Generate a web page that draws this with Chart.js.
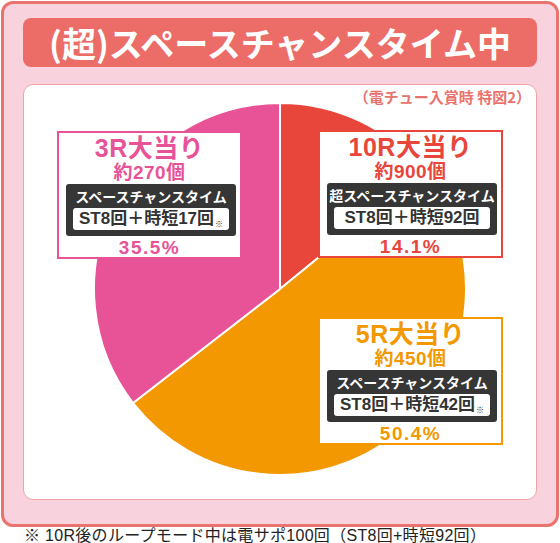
<!DOCTYPE html>
<html><head><meta charset="utf-8">
<script src="https://cdn.jsdelivr.net/npm/chart.js@4/dist/chart.umd.min.js"></script>
<style>
html,body{margin:0;padding:0;background:#fff;}
body{width:560px;height:543px;position:relative;overflow:hidden;font-family:"Liberation Sans","Noto Sans CJK JP",sans-serif;}
#outer{position:absolute;left:1px;top:1px;width:558px;height:526px;box-sizing:border-box;background:#f8d3dd;border:3px solid #e9736e;border-radius:12px;}
#header{position:absolute;left:23px;top:18px;width:514px;height:49px;background:#ec6d67;border-radius:8px;color:#fff;font-weight:700;font-size:34px;line-height:49px;text-align:center;font-family:"Noto Sans CJK JP",sans-serif;}
#inner{position:absolute;left:23px;top:84px;width:514px;height:416px;box-sizing:border-box;background:#fff;border:1px solid #f0a3a3;border-radius:10px;}
#note{position:absolute;right:29px;top:87px;font-size:15px;font-weight:700;color:#e9736e;line-height:20px;font-family:"Noto Sans CJK JP",sans-serif;}
#pie{position:absolute;left:93px;top:102px;}
.lab{position:absolute;width:185px;height:128px;box-sizing:border-box;background:#fff;border:2px solid;}
.lab .t{position:absolute;left:0;right:0;text-align:center;font-weight:700;}
.lab .dark{position:absolute;left:7px;width:170px;height:52px;background:#363636;border-radius:3px;}
.lab .dark .m{position:absolute;left:0;right:0;top:3px;text-align:center;color:#fff;font-weight:700;font-size:14px;line-height:18px;font-family:"Noto Sans CJK JP",sans-serif;}
.lab .dark .w{position:absolute;left:7px;top:24px;width:156px;height:22px;background:#fff;border-radius:3px;color:#333;font-weight:700;font-size:17px;line-height:22px;text-align:center;}
.lab .dark .w small{font-size:8px;position:relative;top:3px;margin-left:1px;font-family:"Noto Sans CJK JP",sans-serif;color:#333;}
#foot{position:absolute;left:24px;top:526px;font-size:16px;color:#222;line-height:20px;letter-spacing:0.3px;}
</style></head>
<body>
<div id="outer"></div>
<div id="header"></div>
<div id="inner"></div>
<div id="note"></div>
<canvas id="pie" width="374" height="374"></canvas>
<div id="labels"></div>
<div id="foot"></div>
<script>
const title = '(超)スペースチャンスタイム中';
const subNote = '（電チュー入賞時 特図2）';
const footNote = '※ 10R後のループモード中は電サポ100回（ST8回+時短92回）';
const categories = ['10R大当り', '5R大当り', '3R大当り'];
const shares = [14.1, 50.4, 35.5];
const payouts = ['約900個', '約450個', '約270個'];
const modes = ['超スペースチャンスタイム', 'スペースチャンスタイム', 'スペースチャンスタイム'];
const stCounts = ['ST8回＋時短92回', 'ST8回＋時短42回', 'ST8回＋時短17回'];
const hasMark = [false, true, true];
const colors = ['#e8453b', '#f39800', '#e85297'];

document.getElementById('header').textContent = title;
document.getElementById('note').textContent = subNote;
document.getElementById('foot').textContent = footNote;

new Chart(document.getElementById('pie'), {
  type: 'pie',
  data: {
    labels: categories,
    datasets: [{ data: shares, backgroundColor: colors, borderColor: '#ffffff', borderWidth: 2 }]
  },
  options: {
    responsive: false,
    animation: false,
    layout: { padding: 0 },
    plugins: { legend: { display: false }, tooltip: { enabled: false } }
  }
});

// label box placement (layout only)
const boxPos = [[318, 130], [318, 317], [57, 131]];
const wrap = document.getElementById('labels');
categories.forEach((c, i) => {
  const d = document.createElement('div');
  d.className = 'lab';
  d.style.left = boxPos[i][0] + 'px';
  d.style.top = boxPos[i][1] + 'px';
  d.style.borderColor = colors[i];
  d.innerHTML =
    `<div class="t" style="top:1px;font-size:25px;line-height:28px;letter-spacing:0.5px;color:${colors[i]}">${c}</div>` +
    `<div class="t" style="top:29px;font-size:19px;line-height:22px;letter-spacing:0.5px;color:${colors[i]}">${payouts[i]}</div>` +
    `<div class="dark" style="top:51px"><div class="m">${modes[i]}</div>` +
    `<div class="w">${stCounts[i]}${hasMark[i] ? '<small>※</small>' : ''}</div></div>` +
    `<div class="t" style="top:104px;font-size:19px;line-height:22px;letter-spacing:1.5px;color:${colors[i]}">${shares[i].toFixed(1)}%</div>`;
  wrap.appendChild(d);
});
</script>
</body></html>
